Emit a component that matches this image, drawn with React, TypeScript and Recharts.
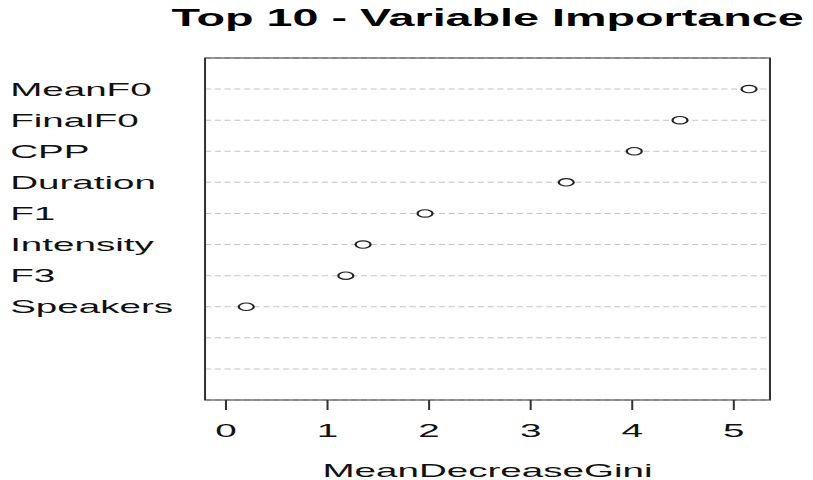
import React from "react";
import {
  ScatterChart,
  Scatter,
  XAxis,
  YAxis,
  CartesianGrid,
  ReferenceArea,
} from "recharts";

// top variables by importance, highest first
const variables = ["MeanF0", "FinalF0", "CPP", "Duration", "F1", "Intensity", "F3", "Speakers"];
const importance = [5.15, 4.47, 4.02, 3.35, 1.96, 1.35, 1.18, 0.2];
const xTicks = [0, 1, 2, 3, 4, 5];
const rowTicks = [1, 2, 3, 4, 5, 6, 7, 8, 9, 10];

const TOP_N = 10;
const X_DOMAIN: [number, number] = [-0.206, 5.356];
const Y_DOMAIN: [number, number] = [0, TOP_N + 1];

// the plot is drawn narrow and stretched sideways
const STRETCH = 2.03;
const W = 400;
const H = 480;
const FONT = "'Liberation Sans', Arial, sans-serif";
const LABEL_SIZE = 19;

const data = variables.map((name, i) => ({
  name,
  value: importance[i],
  row: TOP_N - i,
}));

const rowName = (row: number) => {
  const i = TOP_N - row;
  return i >= 0 && i < variables.length ? variables[i] : "";
};

const RowTick = (props: any) => {
  const { y, payload } = props;
  return (
    <text x={5} y={y} dy="0.35em" fontSize={LABEL_SIZE} fontFamily={FONT} fill="#111" textAnchor="start">
      {rowName(payload.value)}
    </text>
  );
};

const ValueTick = (props: any) => {
  const { x, y, payload } = props;
  return (
    <text x={x} y={y + 25} fontSize={LABEL_SIZE} fontFamily={FONT} fill="#111" textAnchor="middle">
      {payload.value}
    </text>
  );
};

const OpenDot = (props: any) => {
  const { cx, cy } = props;
  return <circle cx={cx} cy={cy} r={3.7} fill="#fff" stroke="#222" strokeWidth={1.1} />;
};

export default function App() {
  return (
    <div style={{ position: "absolute", left: 0, top: 0, width: 813, height: H, background: "#fff", overflow: "hidden" }}>
      <div
        style={{
          position: "absolute",
          left: 0,
          top: 0,
          width: W,
          height: H,
          transform: `scaleX(${STRETCH})`,
          transformOrigin: "0 0",
        }}
      >
        <div
          style={{
            position: "absolute",
            left: 240.2,
            top: 6.5,
            transform: "translateX(-50%)",
            fontFamily: FONT,
            fontWeight: "bold",
            fontSize: 23,
            lineHeight: "23px",
            color: "#000",
            whiteSpace: "nowrap",
          }}
        >
          Top 10 - Variable Importance
        </div>
        <ScatterChart width={W} height={H} margin={{ top: 58, right: 20.7, left: 0, bottom: 0 }}>
          <CartesianGrid vertical={false} stroke="#c4c4c4" strokeDasharray="3 1.8" />
          <XAxis
            type="number"
            dataKey="value"
            domain={X_DOMAIN}
            ticks={xTicks}
            allowDataOverflow
            axisLine={false}
            tickSize={10}
            tickLine={{ stroke: "#333", strokeWidth: 1 }}
            tick={<ValueTick />}
            height={80}
            label={{ value: "MeanDecreaseGini", position: "insideBottom", offset: 3, fontSize: LABEL_SIZE, fontFamily: FONT, fill: "#111" }}
          />
          <YAxis
            type="number"
            dataKey="row"
            domain={Y_DOMAIN}
            ticks={rowTicks}
            allowDataOverflow
            axisLine={false}
            tickLine={false}
            tick={<RowTick />}
            width={101}
          />
          <ReferenceArea
            x1={X_DOMAIN[0]}
            x2={X_DOMAIN[1]}
            y1={Y_DOMAIN[0]}
            y2={Y_DOMAIN[1]}
            fill="none"
            fillOpacity={0}
            stroke="#333"
            strokeWidth={1}
            ifOverflow="visible"
          />
          <Scatter data={data} shape={<OpenDot />} isAnimationActive={false} />
        </ScatterChart>
      </div>
    </div>
  );
}
